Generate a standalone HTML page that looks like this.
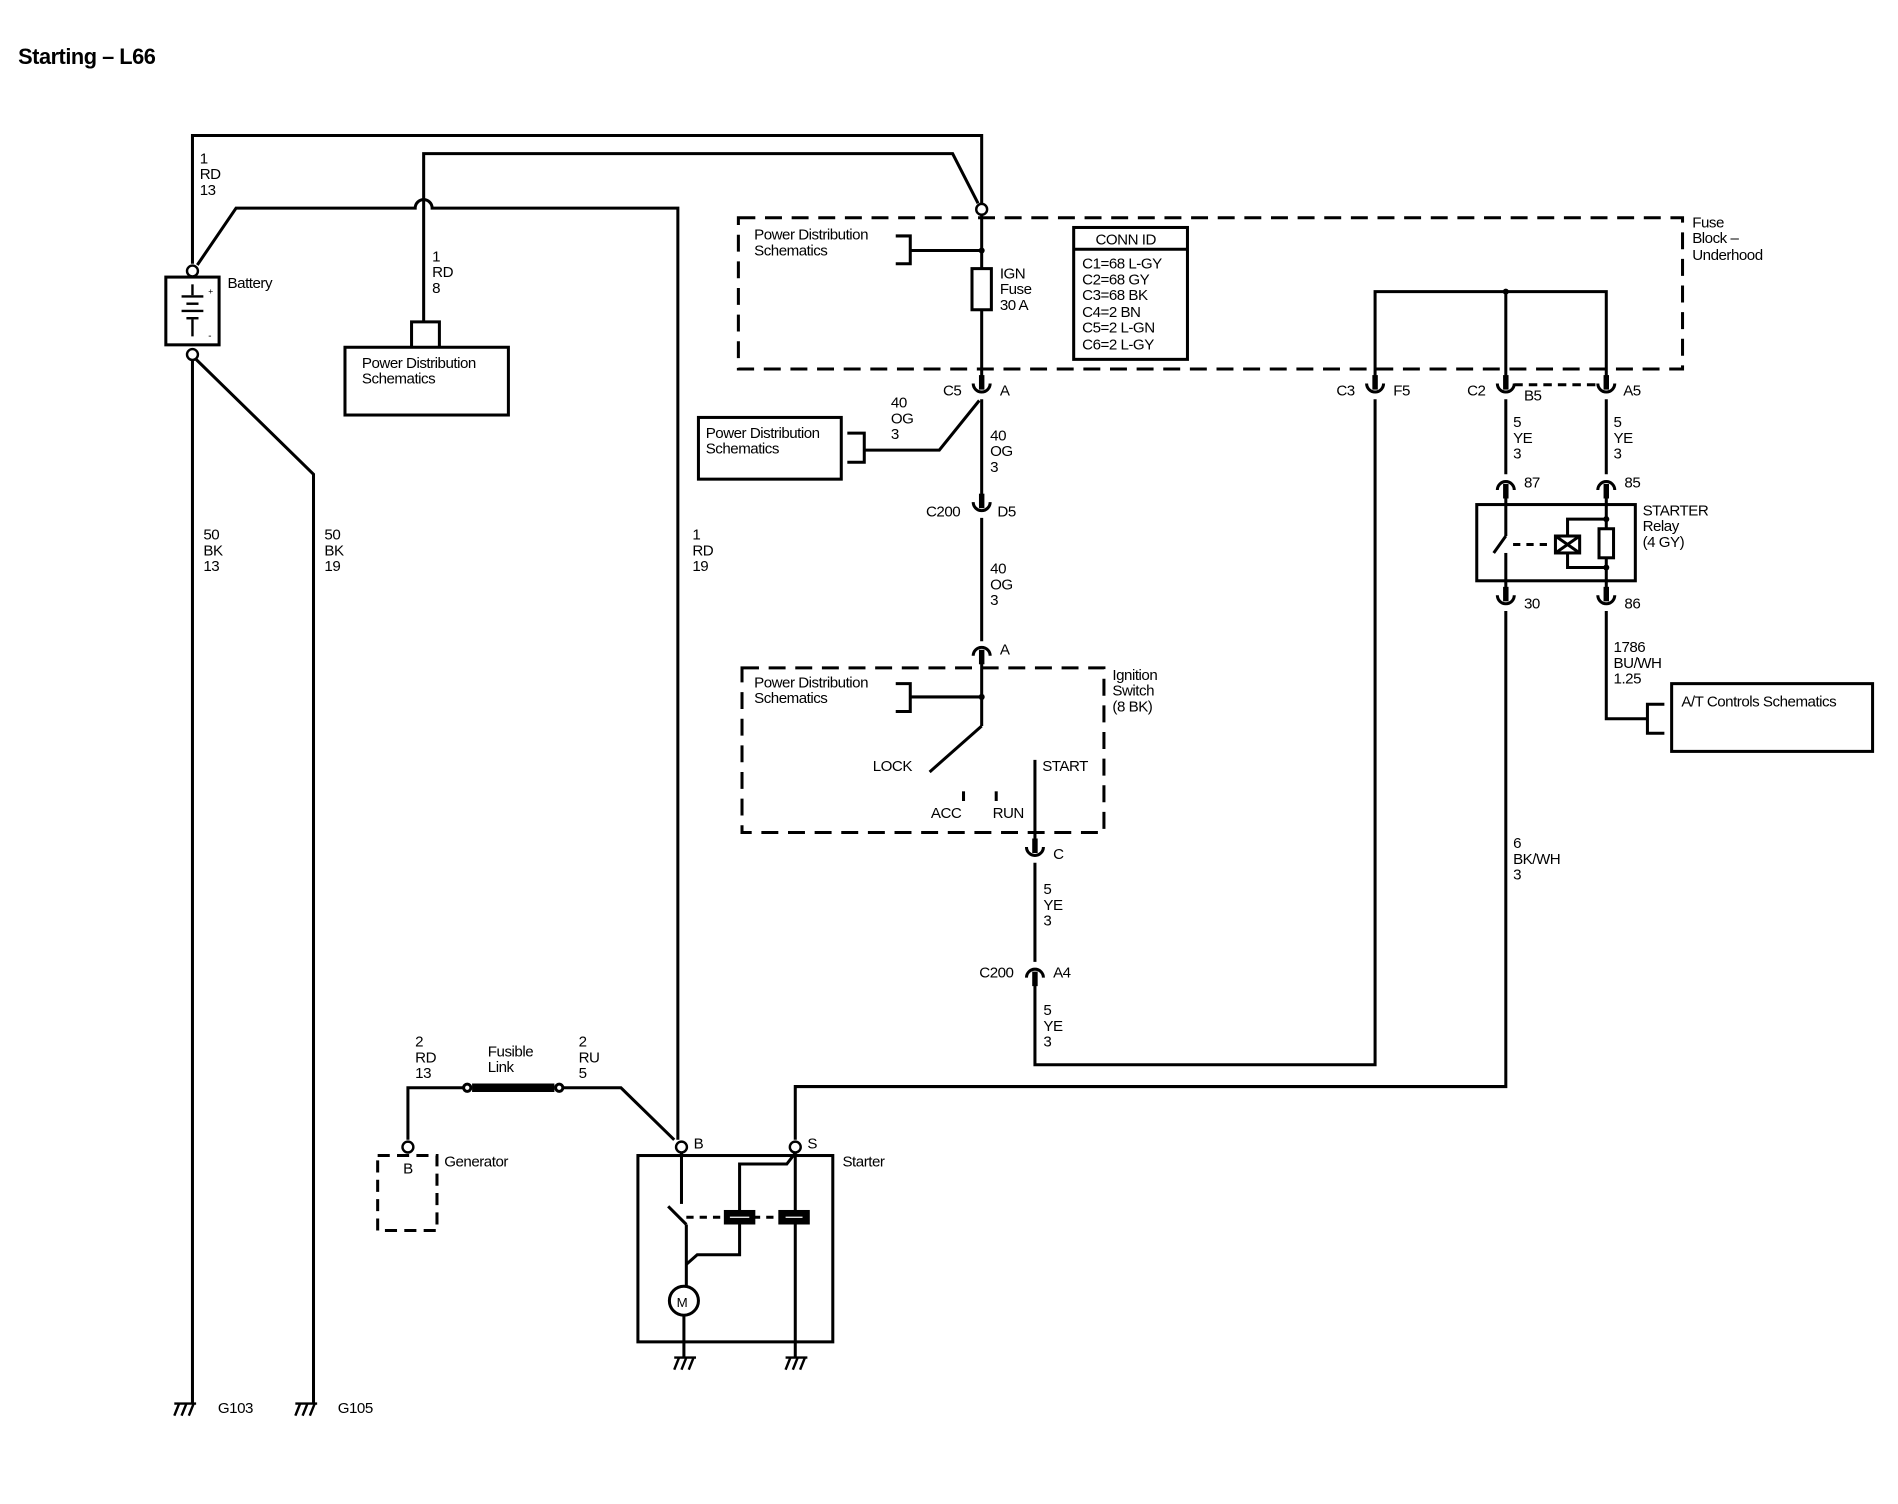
<!DOCTYPE html>
<html><head><meta charset="utf-8"><style>
html,body{margin:0;padding:0;background:#fff;}
svg{display:block;}
text{font-family:"Liberation Sans",Arial,sans-serif;font-size:12.5px;fill:#000;letter-spacing:-0.4px;}
</style></head><body>
<svg width="1898" height="1504" viewBox="0 0 1568 1243" preserveAspectRatio="none" xmlns="http://www.w3.org/2000/svg">
<defs>
<g id="cup"><path d="M-7,-5 A7,7 0 0 0 7,-5" fill="none" stroke="#000" stroke-width="2.5"/><line x1="0" y1="-12" x2="0" y2="0" stroke="#000" stroke-width="4.5"/></g>
<g id="cupd"><path d="M-7,5 A7,7 0 0 1 7,5" fill="none" stroke="#000" stroke-width="2.5"/><line x1="0" y1="12" x2="0" y2="0" stroke="#000" stroke-width="4.5"/></g>
<g id="gnd" stroke="#000" stroke-width="2" fill="none"><line x1="-8" y1="0" x2="10" y2="0"/><line x1="-4" y1="0" x2="-8" y2="10"/><line x1="2" y1="0" x2="-2" y2="10"/><line x1="8" y1="0" x2="4" y2="10"/></g>
</defs>
<text x="15" y="53" style="font-size:18px;font-weight:bold">Starting – L66</text>
<g stroke="#000" stroke-width="2.5" fill="none">
<polyline points="159,218 159,112 811,112 811,168"/>
<polyline points="350,266 350,127 787,127 808,168"/>
<path d="M163,219 L195,172 L343,172 A7,7 0 0 1 357,172 L560,172 L560,942"/>
<line x1="159" y1="298" x2="159" y2="1160"/>
<polyline points="162,297 259,392 259,1160"/>
<rect x="137" y="229" width="44" height="56"/>
<rect x="285" y="287" width="135" height="56"/>
<polyline points="340,287 340,266 363,266 363,287"/>
<rect x="610" y="180" width="780" height="125" stroke-dasharray="14,8"/>
<line x1="811" y1="178" x2="811" y2="222"/>
<rect x="803" y="222" width="16" height="34"/>
<line x1="811" y1="256" x2="811" y2="312"/>
<polyline points="740,195 752,195 752,218 740,218"/>
<line x1="752" y1="207" x2="811" y2="207"/>
<rect x="887" y="188" width="94" height="109"/>
<line x1="887" y1="206" x2="981" y2="206"/>
<polyline points="1136,312 1136,241 1327,241 1327,312"/>
<line x1="1244" y1="241" x2="1244" y2="312"/>
<line x1="1251" y1="318" x2="1320" y2="318" stroke-dasharray="7,5"/>
<line x1="811" y1="330" x2="811" y2="410"/>
<polyline points="809,331 776,372 714,372"/>
<polyline points="700,358 714,358 714,382 700,382"/>
<rect x="577" y="345" width="118" height="51"/>
<line x1="811" y1="428" x2="811" y2="530"/>
<rect x="613" y="552" width="299" height="136" stroke-dasharray="14,8"/>
<line x1="811" y1="544" x2="811" y2="600"/>
<line x1="811" y1="600" x2="768" y2="638"/>
<polyline points="740,565 752,565 752,588 740,588"/>
<line x1="752" y1="576" x2="811" y2="576"/>
<line x1="796" y1="654" x2="796" y2="662"/>
<line x1="823" y1="654" x2="823" y2="662"/>
<line x1="855" y1="628" x2="855" y2="697"/>
<line x1="855" y1="713" x2="855" y2="795"/>
<polyline points="855,813 855,880 1136,880 1136,330"/>
<line x1="1244" y1="330" x2="1244" y2="392"/>
<line x1="1327" y1="330" x2="1327" y2="392"/>
<rect x="1220" y="417" width="131" height="63"/>
<line x1="1244" y1="408" x2="1244" y2="443"/><line x1="1244" y1="443" x2="1234" y2="457"/><line x1="1244" y1="457" x2="1244" y2="490"/>
<line x1="1250" y1="450" x2="1282" y2="450" stroke-dasharray="6,5"/>
<rect x="1285" y="443" width="20" height="14"/>
<path d="M1285,443 L1305,457 M1305,443 L1285,457"/>
<polyline points="1295,443 1295,429 1327,429"/><polyline points="1295,457 1295,469 1327,469"/>
<line x1="1327" y1="408" x2="1327" y2="490"/>
<rect x="1321" y="437" width="12" height="24" fill="#fff"/>
<polyline points="1244,505 1244,898 657,898 657,942"/>
<polyline points="1327,505 1327,594 1361,594"/>
<polyline points="1375,582 1361,582 1361,606 1375,606"/>
<rect x="1381" y="565" width="166" height="56"/>
<rect x="312" y="955" width="49" height="62" stroke-dasharray="10,6"/>
<polyline points="337,942 337,899 383,899"/>
<line x1="390" y1="899" x2="458" y2="899" stroke-width="7"/>
<polyline points="465,899 513,899 557,942"/>
<circle cx="386" cy="899" r="3"/><circle cx="462" cy="899" r="3"/>
<rect x="527" y="955" width="161" height="154"/>
<line x1="563" y1="953" x2="563" y2="995"/>
<line x1="552" y1="997" x2="567" y2="1012"/>
<line x1="567" y1="1006" x2="598" y2="1006" stroke-dasharray="6,5"/>
<line x1="622" y1="1006" x2="644" y2="1006" stroke-dasharray="6,5"/>
<polyline points="567,1012 567,1063"/>
<polyline points="567,1045 576,1037 611,1037 611,962 650,962 657,953"/>
<line x1="657" y1="953" x2="657" y2="1122"/>
<circle cx="565" cy="1075" r="12"/>
<line x1="565" y1="1087" x2="565" y2="1122"/>
</g>
<rect x="598" y="1000" width="26" height="12"/>
<rect x="643" y="1000" width="26" height="12"/>
<path d="M603,1006 L619,1006 M663,1006 L649,1006" stroke="#fff" stroke-width="1"/>
<g stroke="#000" stroke-width="2"><line x1="159" y1="235" x2="159" y2="244"/><line x1="150" y1="245" x2="168" y2="245"/><line x1="154" y1="251" x2="164" y2="251"/><line x1="150" y1="257" x2="168" y2="257"/><line x1="154" y1="263" x2="164" y2="263"/><line x1="159" y1="264" x2="159" y2="278"/></g>
<text x="172" y="243" style="font-size:7px">+</text><text x="172" y="280" style="font-size:8px">-</text>
<g fill="#fff" stroke="#000" stroke-width="2">
<circle cx="159" cy="224" r="4.5"/><circle cx="159" cy="293" r="4.5"/><circle cx="811" cy="173" r="4.5"/>
<circle cx="337" cy="948" r="4.5"/><circle cx="563" cy="948" r="4.5"/><circle cx="657" cy="948" r="4.5"/>
</g>
<g fill="#000"><circle cx="811" cy="207" r="2.5"/><circle cx="1244" cy="241" r="2.5"/><circle cx="811" cy="576" r="2.5"/><circle cx="1327" cy="429" r="2.5"/><circle cx="1327" cy="469" r="2.5"/></g>
<use href="#cup" x="811" y="322"/><use href="#cup" x="1136" y="322"/><use href="#cup" x="1244" y="322"/><use href="#cup" x="1327" y="322"/>
<use href="#cup" x="811" y="420"/><use href="#cupd" x="811" y="537"/>
<use href="#cup" x="855" y="705"/><use href="#cupd" x="855" y="803"/>
<use href="#cupd" x="1244" y="400"/><use href="#cupd" x="1327" y="400"/>
<use href="#cup" x="1244" y="497"/><use href="#cup" x="1327" y="497"/>
<use href="#gnd" x="152" y="1160"/><use href="#gnd" x="252" y="1160"/>
<use href="#gnd" x="565" y="1122"/><use href="#gnd" x="657" y="1122"/>
<g>
<text x="165" y="135">1</text><text x="165" y="148">RD</text><text x="165" y="161">13</text>
<text x="188" y="238">Battery</text>
<text x="357" y="216">1</text><text x="357" y="229">RD</text><text x="357" y="242">8</text>
<text x="299" y="304">Power Distribution</text><text x="299" y="317">Schematics</text>
<text x="168" y="446">50</text><text x="168" y="459">BK</text><text x="168" y="472">13</text>
<text x="268" y="446">50</text><text x="268" y="459">BK</text><text x="268" y="472">19</text>
<text x="572" y="446">1</text><text x="572" y="459">RD</text><text x="572" y="472">19</text>
<text x="623" y="198">Power Distribution</text><text x="623" y="211">Schematics</text>
<text x="826" y="230">IGN</text><text x="826" y="243">Fuse</text><text x="826" y="256">30 A</text>
<text x="905" y="202">CONN ID</text>
<text x="894" y="222">C1=68 L-GY</text><text x="894" y="235">C2=68 GY</text><text x="894" y="248">C3=68 BK</text><text x="894" y="262">C4=2 BN</text><text x="894" y="275">C5=2 L-GN</text><text x="894" y="289">C6=2 L-GY</text>
<text x="1398" y="188">Fuse</text><text x="1398" y="201">Block –</text><text x="1398" y="215">Underhood</text>
<text x="779" y="327">C5</text><text x="826" y="327">A</text>
<text x="1104" y="327">C3</text><text x="1151" y="327">F5</text>
<text x="1212" y="327">C2</text><text x="1259" y="331">B5</text><text x="1341" y="327">A5</text>
<text x="736" y="337">40</text><text x="736" y="350">OG</text><text x="736" y="363">3</text>
<text x="583" y="362">Power Distribution</text><text x="583" y="375">Schematics</text>
<text x="818" y="364">40</text><text x="818" y="377">OG</text><text x="818" y="390">3</text>
<text x="765" y="427">C200</text><text x="824" y="427">D5</text>
<text x="818" y="474">40</text><text x="818" y="487">OG</text><text x="818" y="500">3</text>
<text x="826" y="541">A</text>
<text x="919" y="562">Ignition</text><text x="919" y="575">Switch</text><text x="919" y="588">(8 BK)</text>
<text x="623" y="568">Power Distribution</text><text x="623" y="581">Schematics</text>
<text x="721" y="637">LOCK</text><text x="861" y="637">START</text>
<text x="769" y="676">ACC</text><text x="820" y="676">RUN</text>
<text x="870" y="710">C</text>
<text x="862" y="739">5</text><text x="862" y="752">YE</text><text x="862" y="765">3</text>
<text x="809" y="808">C200</text><text x="870" y="808">A4</text>
<text x="862" y="839">5</text><text x="862" y="852">YE</text><text x="862" y="865">3</text>
<text x="1250" y="353">5</text><text x="1250" y="366">YE</text><text x="1250" y="379">3</text>
<text x="1333" y="353">5</text><text x="1333" y="366">YE</text><text x="1333" y="379">3</text>
<text x="1259" y="403">87</text><text x="1342" y="403">85</text>
<text x="1357" y="426">STARTER</text><text x="1357" y="439">Relay</text><text x="1357" y="452">(4 GY)</text>
<text x="1259" y="503">30</text><text x="1342" y="503">86</text>
<text x="1333" y="539">1786</text><text x="1333" y="552">BU/WH</text><text x="1333" y="565">1.25</text>
<text x="1389" y="584">A/T Controls Schematics</text>
<text x="1250" y="701">6</text><text x="1250" y="714">BK/WH</text><text x="1250" y="727">3</text>
<text x="343" y="865">2</text><text x="343" y="878">RD</text><text x="343" y="891">13</text>
<text x="403" y="873">Fusible</text><text x="403" y="886">Link</text>
<text x="478" y="865">2</text><text x="478" y="878">RU</text><text x="478" y="891">5</text>
<text x="333" y="970">B</text><text x="367" y="964">Generator</text>
<text x="573" y="949">B</text><text x="667" y="949">S</text><text x="696" y="964">Starter</text>
<text x="559" y="1080" style="font-size:11px">M</text>
<text x="180" y="1168">G103</text><text x="279" y="1168">G105</text>
</g>
</svg>
</body></html>
